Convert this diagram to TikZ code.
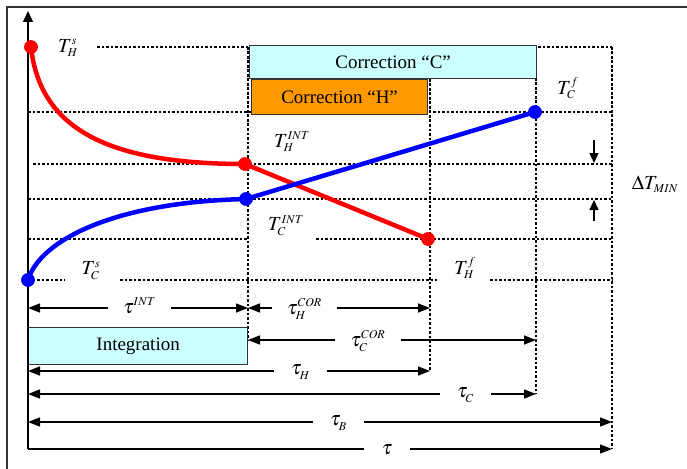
\documentclass[tikz,border=0pt]{standalone}
\usepackage{mathptmx}
\usepackage{fontspec}
\setmainfont{Liberation Serif}
\usetikzlibrary{arrows.meta}
\definecolor{cyanbox}{HTML}{CCFFFF}
\definecolor{orangebox}{HTML}{FF9900}
\newcommand\Tl[2]{$T^{\scriptscriptstyle #2}_{\scriptscriptstyle #1}$}
\newcommand\tl[2]{$\tau^{\scriptscriptstyle #2}_{\scriptscriptstyle #1}$}
\begin{document}
\begin{tikzpicture}[x=1pt,y=-1pt,
  guide/.style={line width=2.8pt, dash pattern=on 2.6pt off 1.9pt},
  hot/.style={red, line width=4.5pt, line join=round},
  cold/.style={blue, line width=4.5pt, line join=round},
  rdot/.style={circle, fill=red, inner sep=0pt, minimum size=13.5pt},
  bdot/.style={circle, fill=blue, inner sep=0pt, minimum size=13.5pt},
  phase/.style={draw=black!80, line width=1.2pt, inner sep=0pt, anchor=north west, font=\fontsize{19}{22}\selectfont},
  span/.style={line width=1.4pt, {Triangle[length=12pt,width=9pt]}-{Triangle[length=12pt,width=9pt]}},
  rspan/.style={line width=1.4pt, -{Triangle[length=12pt,width=9pt]}},
  lbl/.style={font=\fontsize{20}{22}\selectfont, inner sep=0pt},
  gap/.style={lbl, fill=white, minimum height=8pt},
]
\useasboundingbox (0,0) rectangle (687,468);
% frame
\draw[line width=1.2pt, black!80] (7,470) -- (7,7) -- (690,7);

% key coordinates
\coordinate (O) at (28,449);
\coordinate (Ytop) at (28,11);

% horizontal guides
\draw[guide] (28,47) -- (38,47) (97,47) -- (612,47);
\draw[guide] (28,112) -- (612,112);
\draw[guide] (33,164) -- (612,164);
\draw[guide] (28,199) -- (612,199);
\draw[guide] (28,239) -- (248,239) (316,239) -- (612,239);
\draw[guide] (28,280) -- (65,280) (120,280) -- (437,280) (490,280) -- (612,280);
% vertical guides
\draw[guide] (248,47) -- (248,340);
\draw[guide] (430,79) -- (430,371);
\draw[guide] (536,78) -- (536,394);
\draw[guide] (612,47) -- (612,449);

% phase boxes
\node[phase, fill=cyanbox, minimum width=287pt, minimum height=33pt] (corrC) at (249,45) {Correction “C”};
\node[phase, fill=orangebox, minimum width=176pt, minimum height=35pt] (corrH) at (251,79) {Correction “H”};
\node[phase, fill=cyanbox, minimum width=219pt, minimum height=37pt] (integ) at (28,327) {Integration};

% axis
\draw[line width=1.4pt, -{Triangle[length=11pt,width=10pt]}] (O) -- (Ytop);

% state points
\node[rdot] (hs) at (31,47) {};
\node[rdot] (hint) at (245,164) {};
\node[rdot] (hf) at (428,239) {};
\node[bdot] (cs) at (28,280) {};
\node[bdot] (cint) at (246,199) {};
\node[bdot] (cf) at (535,112) {};

% temperature curves
\draw[hot] (hs.center) .. controls (40,130) and (110,164) .. (hint.center) -- (hf.center);
\draw[cold] (cs.center) .. controls (40,240) and (115,202) .. (cint.center) -- (cf.center);
\node[rdot] at (hs) {};
\node[rdot] at (hint) {};
\node[rdot] at (hf) {};
\node[bdot] at (cs) {};
\node[bdot] at (cint) {};
\node[bdot] at (cf) {};

% temperature labels
\node[lbl] (lhs) at (68,48) {\Tl{H}{s}};
\node[lbl] (lcf) at (568,88) {\Tl{C}{f}};
\node[lbl] (lhint) at (292,142) {\Tl{H}{INT}};
\node[lbl] (lcint) at (286,226) {\Tl{C}{INT}};
\node[lbl] (lcs) at (91,271) {\Tl{C}{s}};
\node[lbl] (lhf) at (465,268) {\Tl{H}{f}};
\node[lbl] (ldt) at (655,184) {$\Delta T_{\scriptscriptstyle MIN}$};

% Delta T arrows
\coordinate (d1a) at (594,140);
\coordinate (d1b) at (594,163);
\coordinate (d2a) at (594,221);
\coordinate (d2b) at (594,200);
\draw[rspan, -{Triangle[length=10pt,width=9pt]}] (d1a) -- (d1b);
\draw[rspan, -{Triangle[length=10pt,width=9pt]}] (d2a) -- (d2b);

% time spans
\coordinate (a1) at (28,308);  \coordinate (b1) at (248,308);
\coordinate (a2) at (248,308); \coordinate (b2) at (430,308);
\coordinate (a3) at (248,340); \coordinate (b3) at (536,340);
\coordinate (a4) at (28,371);  \coordinate (b4) at (430,371);
\coordinate (a5) at (28,394);  \coordinate (b5) at (536,394);
\coordinate (a6) at (28,422);  \coordinate (b6) at (612,422);
\coordinate (b7) at (612,449);
\draw[span] (a1) -- (b1);
\draw[span] (a2) -- (b2);
\draw[span] (a3) -- (b3);
\draw[span] (a4) -- (b4);
\draw[span] (a5) -- (b5);
\draw[span] (a6) -- (b6);
\draw[rspan] (O) -- (b7);

\node[gap, minimum width=63pt] (tint) at (139.5,308) {\tl{}{INT}};
\node[gap, minimum width=65pt] (thcor) at (304.5,309) {\tl{H}{COR}};
\node[gap, minimum width=66pt] (tccor) at (368,341) {\tl{C}{COR}};
\node[gap, minimum width=53pt] (th) at (300.5,372) {\tl{H}{}};
\node[gap, minimum width=51pt] (tc) at (465.5,395) {\tl{C}{}};
\node[gap, minimum width=51pt] (tb) at (338.5,423) {\tl{B}{}};
\node[gap, minimum width=46pt] (tt) at (387,450) {$\tau$};
\end{tikzpicture}
\end{document}
